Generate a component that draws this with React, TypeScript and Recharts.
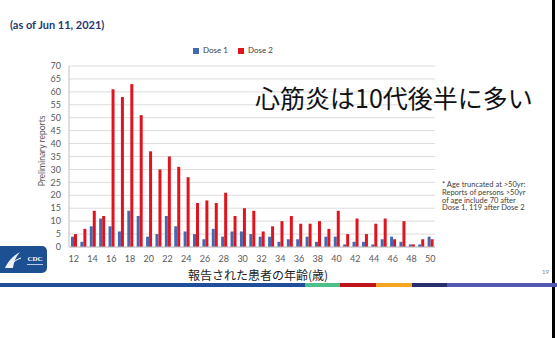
import React from 'react';
import { BarChart, Bar, XAxis, YAxis, CartesianGrid, Legend } from 'recharts';

const ages = [12, 13, 14, 15, 16, 17, 18, 19, 20, 21, 22, 23, 24, 25, 26, 27, 28, 29, 30, 31, 32, 33, 34, 35, 36, 37, 38, 39, 40, 41, 42, 43, 44, 45, 46, 47, 48, 49, 50];
const dose1 = [4, 2, 8, 11, 8, 6, 14, 12, 4, 5, 12, 8, 6, 5, 3, 7, 4, 6, 6, 5, 4, 4, 2, 3, 3, 4, 2, 4, 4, 1, 2, 2, 1, 3, 4, 2, 1, 1, 4];
const dose2 = [5, 7, 14, 12, 61, 58, 63, 51, 37, 30, 35, 31, 27, 17, 18, 17, 21, 12, 15, 14, 6, 8, 10, 12, 9, 9, 10, 7, 14, 5, 11, 5, 9, 11, 3, 10, 1, 3, 3];
const yTicks = [0, 5, 10, 15, 20, 25, 30, 35, 40, 45, 50, 55, 60, 65, 70];
const seriesNames = ['Dose 1', 'Dose 2'];
const titleText = '(as of Jun 11, 2021)';
const headline = '心筋炎は10代後半に多い';
const xTitle = '報告された患者の年齢(歳)';
const yTitle = 'Preliminary reports';
const noteLines = ['* Age truncated at >50yr:', 'Reports of persons >50yr', 'of age include 70 after', 'Dose 1, 119 after Dose 2'];
const pageNo = '19';

const data = ages.map((a, i) => ({ age: a, d1: dose1[i], d2: dose2[i] }));

const bandSegments = [
  { x: 0, w: 305, c: '#1f4e9a' },
  { x: 305, w: 35, c: '#4dbf8a' },
  { x: 340, w: 36, c: '#c0141c' },
  { x: 376, w: 36, c: '#f5a623' },
  { x: 412, w: 35, c: '#2b2e6e' },
  { x: 447, w: 110, c: '#5558b0' },
];

export default function App() {
  const latin = 'Lato, "Open Sans", sans-serif';
  const cjk = '"Noto Sans CJK JP", sans-serif';
  return (
    <div style={{ position: 'fixed', left: 0, top: 0, width: 557, height: 338, background: '#fff', overflow: 'hidden', fontFamily: latin }}>
      <div style={{ position: 'absolute', left: 10, top: 18, fontSize: 11, fontWeight: 700, color: '#1f3a6e', whiteSpace: 'nowrap' }}>{titleText}</div>
      <div style={{ position: 'absolute', left: 0, top: 0 }}>
        <BarChart width={557} height={338} data={data} margin={{ top: 66, right: 122, bottom: 61, left: 49 }} barGap={0} barSize={3}>
          <CartesianGrid vertical={false} stroke="#dcdcdc" />
          <XAxis dataKey="age" interval={1} tickLine={false} axisLine={{ stroke: '#bfbfbf' }} tick={{ fontSize: 9, fill: '#595959', fontFamily: latin }} height={30} tickMargin={3} />
          <YAxis domain={[0, 70]} ticks={yTicks} width={20} tickLine={false} axisLine={{ stroke: '#bfbfbf' }} tick={{ fontSize: 9, fill: '#595959', fontFamily: latin }} interval={0} />
          <Legend
            layout="horizontal"
            verticalAlign="middle"
            align="center"
            iconType="square"
            iconSize={6}
            wrapperStyle={{ top: 44, left: 193, width: 90, height: 12, fontSize: 8, fontFamily: latin, lineHeight: '12px' }}
            formatter={(v: string) => <span style={{ color: '#404040' }}>{v}</span>}
          />
          <Bar dataKey="d1" name={seriesNames[0]} fill="#4469b2" isAnimationActive={false} />
          <Bar dataKey="d2" name={seriesNames[1]} fill="#e0141e" isAnimationActive={false} />
        </BarChart>
      </div>
      <div style={{ position: 'absolute', left: 255, top: 82, fontSize: 25, fontFamily: cjk, color: '#111', whiteSpace: 'nowrap', lineHeight: '30px' }}>{headline}</div>
      <div style={{ position: 'absolute', left: 42, top: 151, width: 0, height: 0 }}>
        <div style={{ position: 'absolute', transform: 'translate(-50%, -50%) rotate(-90deg)', fontSize: 8.5, color: '#595959', whiteSpace: 'nowrap' }}>{yTitle}</div>
      </div>
      <div style={{ position: 'absolute', left: 258, top: 274, width: 0, height: 0 }}>
        <div style={{ position: 'absolute', transform: 'translate(-50%, -50%)', fontSize: 12, fontFamily: cjk, color: '#222', whiteSpace: 'nowrap' }}>{xTitle}</div>
      </div>
      <div style={{ position: 'absolute', left: 442, top: 181, fontSize: 7.5, lineHeight: '7.8px', color: '#404040', whiteSpace: 'nowrap' }}>
        {noteLines.map((l) => <div key={l}>{l}</div>)}
      </div>
      <div style={{ position: 'absolute', left: 542, top: 268, fontSize: 6, color: '#7f7f7f' }}>{pageNo}</div>
      <div style={{ position: 'absolute', left: 552, top: 0, width: 3, height: 338, background: '#000' }} />
      {bandSegments.map((s) => (
        <div key={s.x} style={{ position: 'absolute', left: s.x, top: 283, width: s.w, height: 4, background: s.c }} />
      ))}
      <svg style={{ position: 'absolute', left: 0, top: 246 }} width={50} height={28}>
        <rect x={-6} y={0} width={53} height={27} rx={5} fill="#1d4f93" />
        <path d="M5 22 C 9 14, 13 10, 20 6 C 16 11, 14 15, 13 22 Z" fill="#fff" opacity={0.9} />
        <path d="M9 22 C 12 17, 15 14, 21 12" stroke="#fff" strokeWidth={1} fill="none" />
        <text x={35} y={15} fill="#fff" fontSize={7} fontWeight={700} fontFamily="serif" textAnchor="middle">CDC</text>
        <rect x={27} y={18} width={16} height={1} fill="#fff" opacity={0.7} />
      </svg>
    </div>
  );
}
